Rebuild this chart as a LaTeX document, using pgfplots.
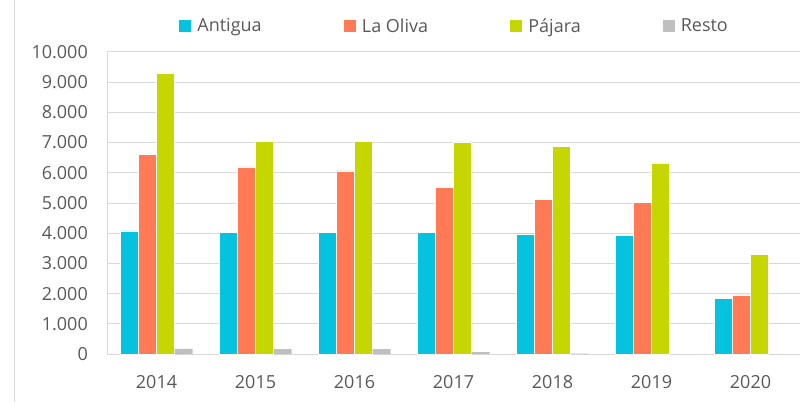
\documentclass[border=0pt]{standalone}
\usepackage{pgfplots}
\pgfplotsset{compat=1.18}
\usepackage{fontspec}
\setmainfont{Open Sans}
\definecolor{cAnt}{HTML}{05C3DE}
\definecolor{cOli}{HTML}{FF7A55}
\definecolor{cPaj}{HTML}{C5D600}
\definecolor{cRes}{HTML}{BFBFBF}
\definecolor{txt}{HTML}{595959}
\definecolor{grd}{HTML}{D9D9D9}
\begin{document}
\begin{tikzpicture}
\path[use as bounding box] (0,0) rectangle (800pt,402pt);
\draw[grd, line width=1pt] (14pt,0) -- (14pt,402pt);
\begin{axis}[
  at={(107pt,48pt)}, anchor=south west,
  scale only axis, width=693pt, height=302pt,
  xmin=-0.5, xmax=6.5, ymin=0, ymax=10000,
  ybar=0pt, bar width=0.182,
  xtick={0,1,2,3,4,5,6},
  xticklabels={2014,2015,2016,2017,2018,2019,2020},
  ytick={0,1000,...,10000},
  scaled y ticks=false,
  /pgf/number format/.cd, 1000 sep={.}, assume math mode=true, /pgfplots/.cd,
  major tick length=0pt,
  axis x line*=bottom, axis y line*=left,
  axis line style={grd, line width=1pt, -},
  ymajorgrids, grid style={grd, line width=1pt},
  tick label style={font=\fontsize{18}{21}\selectfont, text=txt},
  xticklabel style={anchor=center, yshift=-28pt, inner sep=0pt},
  yticklabel style={anchor=east, xshift=-19pt, inner sep=0pt},
  legend columns=4,
  legend style={draw=none, fill=none, at={(0.5,1)}, anchor=center, yshift=26pt,
    font=\fontsize{18}{21}\selectfont, text=txt,
    /tikz/every even column/.append style={column sep=82pt},
    nodes={inner sep=0pt}},
  legend image code/.code={\fill[#1,draw=none] (0pt,-6pt) rectangle (12pt,6pt);\path (18pt,0pt);},
  every axis plot/.append style={draw=white, line width=0.5pt},
]
\addplot[fill=cAnt] coordinates {(0,4075) (1,4030) (2,4030) (3,4030) (4,3980) (5,3940) (6,1850)};
\addplot[fill=cOli] coordinates {(0,6620) (1,6200) (2,6060) (3,5510) (4,5130) (5,5010) (6,1960)};
\addplot[fill=cPaj] coordinates {(0,9280) (1,7030) (2,7030) (3,7020) (4,6870) (5,6330) (6,3310)};
\addplot[fill=cRes, draw=none] coordinates {(0,170) (1,160) (2,160) (3,60) (4,15) (5,0) (6,0)};
\legend{Antigua, La Oliva, Pájara, Resto}
\end{axis}
\end{tikzpicture}
\end{document}
